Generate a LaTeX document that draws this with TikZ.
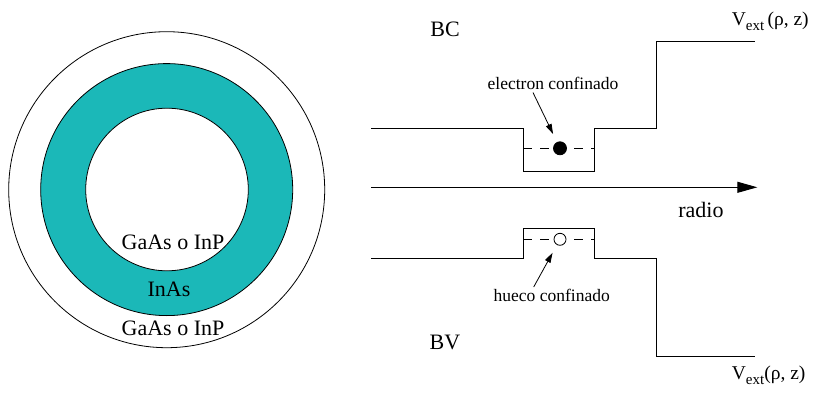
\documentclass[tikz,border=0pt]{standalone}
\usepackage{fontspec}
\setmainfont{Liberation Serif}
\newfontfamily\figserif{Liberation Serif}
\usetikzlibrary{arrows.meta,calc}
\definecolor{ringteal}{RGB}{27,184,184}
\newcommand{\extsub}{\raisebox{-5pt}{\fontsize{15}{17}\selectfont ext}}
\begin{document}
\begin{tikzpicture}[x=1pt,y=-1pt,
  line width=0.8pt,
  font=\figserif,
  biglabel/.style={font=\figserif\fontsize{22}{26}\selectfont, inner sep=1pt},
  smalllabel/.style={font=\figserif\fontsize{17.5}{20}\selectfont, inner sep=1pt},
  vlabel/.style={font=\figserif\fontsize{19.5}{22}\selectfont, inner sep=0pt, anchor=base west},
  band/.style={line width=0.8pt},
  level/.style={line width=0.8pt, dash pattern=on 9pt off 8pt},
  pointer/.style={line width=0.8pt, -{Triangle[length=10pt,width=6pt]}, shorten >=9pt},
  axisarrow/.style={line width=1pt, -{Triangle[length=20pt,width=11pt]}}
]
\useasboundingbox (0,0) rectangle (815,396);
\fill[white] (0,0) rectangle (815,396);

% wire cross-section
\draw (166.7,189.7) circle (158pt);
\draw[fill=ringteal] (166.7,189.6) circle (126pt);
\draw[fill=white] (167,189.5) circle (81.3pt);
\node[biglabel, anchor=base] (core) at (173,249) {GaAs o InP};
\node[biglabel, anchor=base] (shell) at (169,296.7) {InAs};
\node[biglabel, anchor=base] (outer) at (173,335) {GaAs o InP};

% conduction band
\coordinate (c1) at (371,128.3);
\coordinate (c2) at (523,128.3);
\coordinate (c3) at (523,171.7);
\coordinate (c4) at (594.3,171.7);
\coordinate (c5) at (594.3,128.3);
\coordinate (c6) at (656.7,128.3);
\coordinate (c7) at (656.7,41);
\coordinate (c8) at (755,41);
\draw[band] (c1) -- (c2) -- (c3) -- (c4) -- (c5) -- (c6) -- (c7) -- (c8);
\coordinate (cl1) at (523,148.3);
\coordinate (cl2) at (594.3,148.3);
\draw[level] (cl1) -- (cl2);
\node[circle, fill=black, draw=black, inner sep=0pt, minimum size=13pt] (elec) at (560,148.3) {};

% valence band
\coordinate (v1) at (371,258.3);
\coordinate (v2) at (523,258.3);
\coordinate (v3) at (523,228.3);
\coordinate (v4) at (594.3,228.3);
\coordinate (v5) at (594.3,258.3);
\coordinate (v6) at (656.7,258.3);
\coordinate (v7) at (656.7,356.5);
\coordinate (v8) at (755,356.5);
\draw[band] (v1) -- (v2) -- (v3) -- (v4) -- (v5) -- (v6) -- (v7) -- (v8);
\coordinate (vl1) at (523,239.3);
\coordinate (vl2) at (594.3,239.3);
\draw[level] (vl1) -- (vl2);
\node[circle, fill=white, draw=black, inner sep=0pt, minimum size=12pt] (hole) at (560,239.3) {};

% radius axis
\coordinate (ax0) at (371,187.3);
\coordinate (ax1) at (757.3,187.3);
\draw[axisarrow] (ax0) -- (ax1);

% labels
\node[biglabel, anchor=base] (bc) at (445,36.7) {BC};
\node[biglabel, anchor=base] (bv) at (445,349) {BV};
\node[biglabel, anchor=base] (radio) at (701,217.7) {radio};
\node[smalllabel, anchor=base] (elabel) at (553,90) {electron confinado};
\node[smalllabel, anchor=base] (hlabel) at (551.7,301.7) {hueco confinado};
\node[vlabel] (vtop) at (731.5,26) {V\extsub\,(ρ, z)};
\node[vlabel] (vbot) at (731.5,379) {V\extsub(ρ, z)};

% pointers
\draw[pointer] ([xshift=-20pt,yshift=-1pt]elabel.south) -- (elec);
\draw[pointer] ([xshift=-18pt,yshift=1pt]hlabel.north) -- (hole);
\end{tikzpicture}
\end{document}
